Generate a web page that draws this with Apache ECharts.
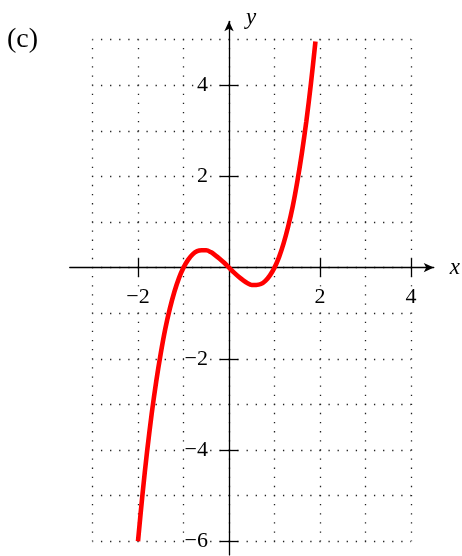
<!DOCTYPE html>
<html>
<head>
<meta charset="utf-8">
<script src="https://cdn.jsdelivr.net/npm/echarts@6/dist/echarts.min.js"></script>
<style>
  html, body { margin: 0; padding: 0; background: #fff; }
  #chart { width: 462px; height: 556px; }
</style>
</head>
<body>
<div id="chart"></div>
<script>
// Curve samples
const curveX = [-2.0, -1.9, -1.8, -1.7, -1.6, -1.5, -1.4, -1.3, -1.2, -1.1,
                -1.0, -0.9, -0.8, -0.7, -0.6, -0.5, -0.4, -0.3, -0.2, -0.1,
                 0.0,  0.1,  0.2,  0.3,  0.4,  0.5,  0.6,  0.7,  0.8,  0.9,
                 1.0,  1.1,  1.2,  1.3,  1.4,  1.5,  1.6,  1.7,  1.8,  1.9];
const curveY = [-6.00, -4.96, -4.03, -3.21, -2.50, -1.88, -1.34, -0.90, -0.53, -0.23,
                 0.00,  0.17,  0.29,  0.36,  0.38,  0.38,  0.34,  0.27,  0.19,  0.10,
                 0.00, -0.10, -0.19, -0.27, -0.34, -0.38, -0.38, -0.36, -0.29, -0.17,
                 0.00,  0.23,  0.53,  0.90,  1.34,  1.88,  2.50,  3.21,  4.03,  4.96];

// Tick labels
const xTicks = [-2, 2, 4];
const yTicks = [-6, -4, -2, 2, 4];

// Axis extents and dotted-grid extents
const xRange = [-3.5, 4.5];
const yRange = [-6.3, 5.4];
const gridXRange = [-3, 4];
const gridYRange = [-6, 5];

// Page placement of the origin and pixels per unit
const ORIGIN = [229, 267.6];
const SX = 45.5, SY = 45.6;
const px = x => ORIGIN[0] + x * SX;
const py = y => ORIGIN[1] - y * SY;

// Axes sit at the origin: shift them inward from the grid edges
const yAxisOffset = xRange[0] * SX;   // negative: moves the left axis right to x = 0
const xAxisOffset = yRange[0] * SY;   // negative: moves the bottom axis up to y = 0

const SERIF = '"Liberation Serif", "DejaVu Serif", serif';
const minus = v => String(v).replace('-', '\u2212');
const axisColor = '#000';

const chart = echarts.init(document.getElementById('chart'));

const tickStyle = { color: axisColor, width: 1.3 };
const labelStyle = {
  fontFamily: SERIF, fontSize: 22, color: '#000',
  backgroundColor: '#fff', formatter: minus
};
const nameStyle = {
  fontFamily: SERIF, fontStyle: 'italic', fontSize: 23, color: '#000'
};

chart.setOption({
  animation: false,
  backgroundColor: '#fff',
  graphic: [{
    type: 'text', left: 7, top: 26,
    style: { text: '(c)', font: '28px ' + SERIF, fill: '#000' }
  }],
  grid: [
    { // axes + curve
      left: px(xRange[0]), top: py(yRange[1]),
      width: (xRange[1] - xRange[0]) * SX, height: (yRange[1] - yRange[0]) * SY,
      outerBoundsMode: 'none'
    },
    { // dotted background grid
      left: px(gridXRange[0]), top: py(gridYRange[1]),
      width: (gridXRange[1] - gridXRange[0]) * SX, height: (gridYRange[1] - gridYRange[0]) * SY,
      outerBoundsMode: 'none'
    }
  ],
  xAxis: [
    {
      gridIndex: 0, type: 'value', min: xRange[0], max: xRange[1], z: 2,
      position: 'bottom', offset: xAxisOffset,
      axisLine: { onZero: false, symbol: ['none', 'arrow'], symbolSize: [7, 10],
                  lineStyle: { color: axisColor, width: 1.3 } },
      axisTick: { show: true, customValues: xTicks, length: 9, lineStyle: tickStyle },
      axisLabel: Object.assign({ customValues: xTicks, margin: 19 }, labelStyle),
      splitLine: { show: false },
      name: 'x', nameLocation: 'end', nameGap: 16,
      nameTextStyle: Object.assign({ align: 'left', verticalAlign: 'middle' }, nameStyle)
    },
    { // upward half of the tick crosses
      gridIndex: 0, type: 'value', min: xRange[0], max: xRange[1], z: 2,
      position: 'bottom', offset: xAxisOffset,
      axisLine: { show: false, onZero: false },
      axisTick: { show: true, inside: true, customValues: xTicks, length: 9, lineStyle: tickStyle },
      axisLabel: { show: false },
      splitLine: { show: false }
    },
    {
      gridIndex: 1, type: 'value', min: gridXRange[0], max: gridXRange[1], interval: 1, z: 0,
      axisLine: { show: false }, axisTick: { show: false }, axisLabel: { show: false },
      splitLine: { show: true,
                   lineStyle: { color: '#222', width: 1.3, type: [1.3, SY / 5 - 1.3], dashOffset: 0.65 } }
    }
  ],
  yAxis: [
    {
      gridIndex: 0, type: 'value', min: yRange[0], max: yRange[1], z: 2,
      position: 'left', offset: yAxisOffset,
      axisLine: { onZero: false, symbol: ['none', 'arrow'], symbolSize: [7, 10],
                  lineStyle: { color: axisColor, width: 1.3 } },
      axisTick: { show: true, customValues: yTicks, length: 9, lineStyle: tickStyle },
      axisLabel: Object.assign({ customValues: yTicks, margin: 21 }, labelStyle),
      splitLine: { show: false },
      name: 'y', nameLocation: 'end', nameGap: 3,
      nameTextStyle: Object.assign({ align: 'left', verticalAlign: 'middle', padding: [0, 0, 0, 17] }, nameStyle)
    },
    { // rightward half of the tick crosses
      gridIndex: 0, type: 'value', min: yRange[0], max: yRange[1], z: 2,
      position: 'left', offset: yAxisOffset,
      axisLine: { show: false, onZero: false },
      axisTick: { show: true, inside: true, customValues: yTicks, length: 9, lineStyle: tickStyle },
      axisLabel: { show: false },
      splitLine: { show: false }
    },
    {
      gridIndex: 1, type: 'value', min: gridYRange[0], max: gridYRange[1], interval: 1, z: 0,
      axisLine: { show: false }, axisTick: { show: false }, axisLabel: { show: false },
      splitLine: { show: true,
                   lineStyle: { color: '#222', width: 1.3, type: [1.3, SX / 5 - 1.3], dashOffset: 0.65 } }
    }
  ],
  series: [{
    type: 'line',
    xAxisIndex: 0, yAxisIndex: 0,
    data: curveX.map((x, i) => [x, curveY[i]]),
    showSymbol: false, smooth: 0.3, z: 10,
    lineStyle: { color: '#ff0000', width: 4.6, cap: 'butt' }
  }]
});
</script>
</body>
</html>
